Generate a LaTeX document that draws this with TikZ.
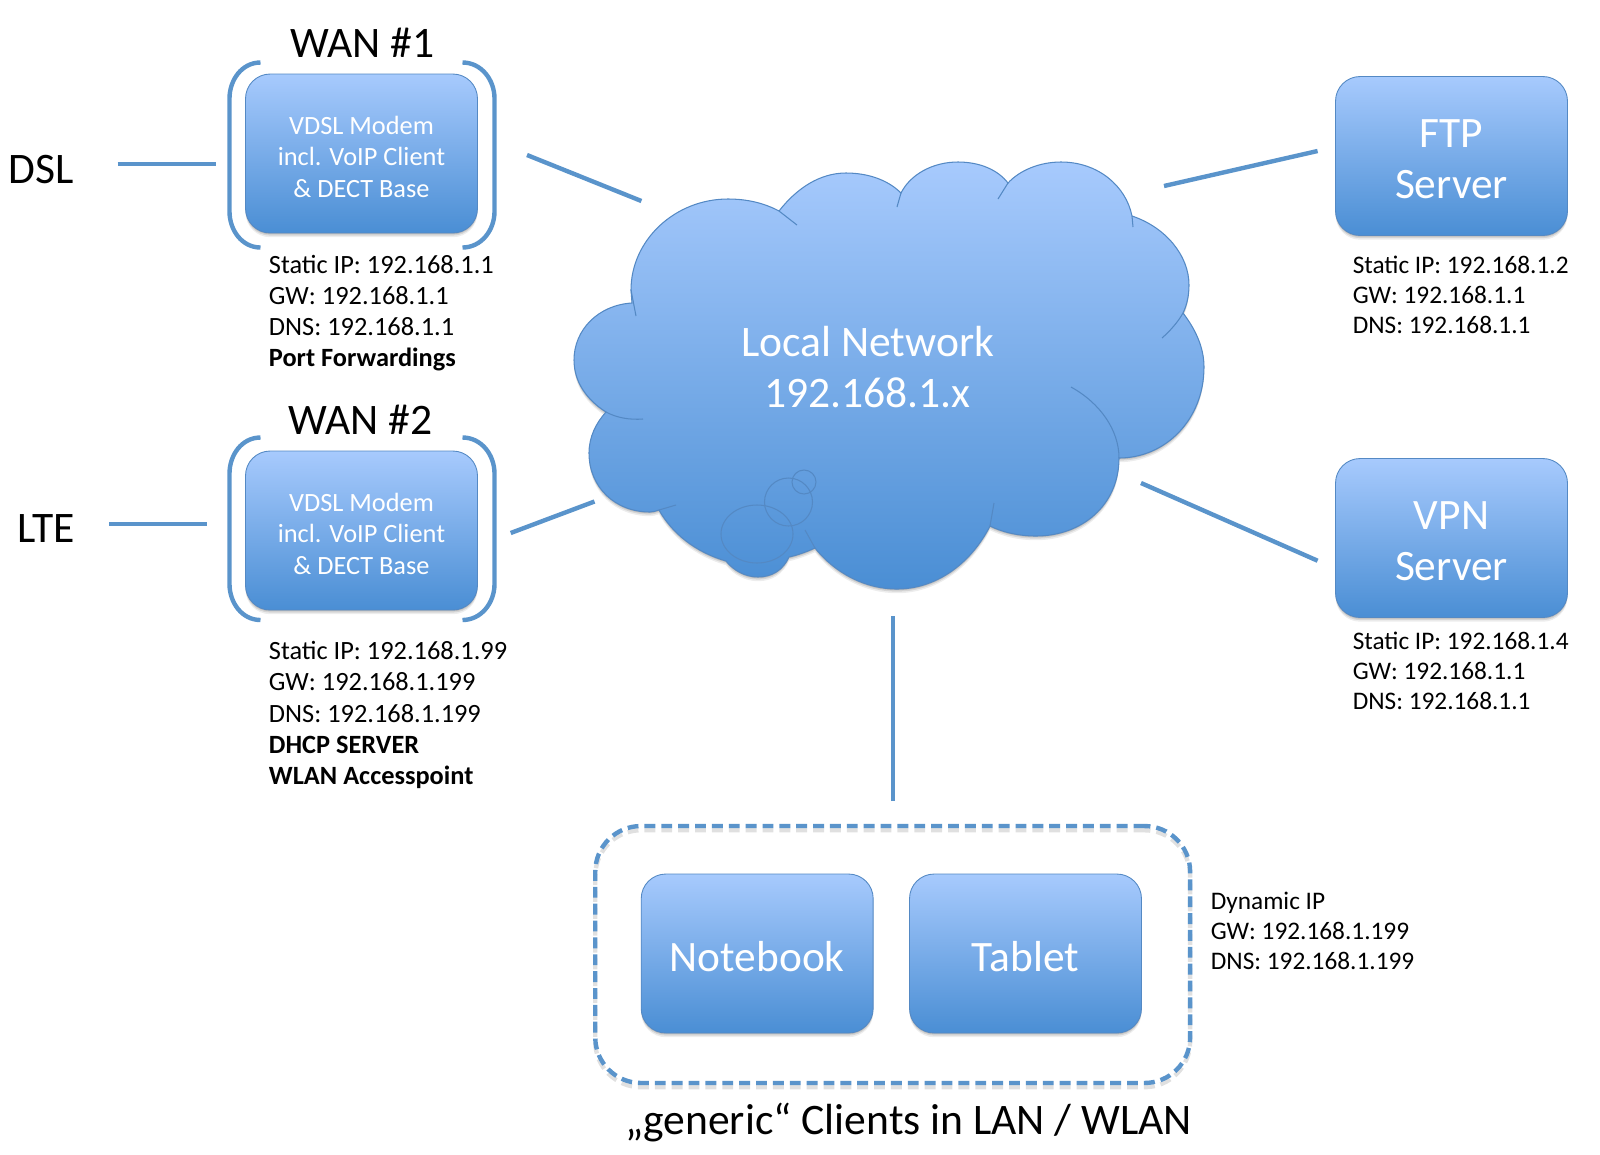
\documentclass[tikz,border=0pt]{standalone}
\usepackage{fontspec}
\setmainfont{Carlito}
\usetikzlibrary{shadows}
\definecolor{boxTop}{RGB}{167,202,253}
\definecolor{boxBot}{RGB}{74,142,212}
\definecolor{boxLine}{RGB}{84,137,196}
\definecolor{linkBlue}{RGB}{90,148,203}
\tikzset{
  softshadow/.style={
    drop shadow={shadow xshift=0pt,shadow yshift=-.7pt,opacity=.12,fill=black},
    drop shadow={shadow xshift=0pt,shadow yshift=-1.5pt,opacity=.1,fill=black},
    drop shadow={shadow xshift=0pt,shadow yshift=-2.4pt,opacity=.07,fill=black}},
  device/.style={draw=boxLine,line width=.5pt,top color=boxTop,bottom color=boxBot,rounded corners=14pt,
    softshadow,minimum width=4.64cm,minimum height=3.18cm,inner sep=0pt,align=center,text=white,
    font=\fontsize{24.7}{29}\selectfont,execute at begin node={\rule{0pt}{20.5pt}}},
  server/.style={device,execute at begin node={\rule{0pt}{48.5pt}}},
  modem/.style={device,font=\fontsize{15}{17.8}\selectfont,execute at begin node={\rule{0pt}{49.8pt}}},
  biglabel/.style={font=\fontsize{24.8}{29}\selectfont,inner sep=0pt,align=center},
  details/.style={font=\fontsize{15}{17.7}\selectfont,inner sep=0pt,align=left,anchor=west},
  sidedetails/.style={details,font=\fontsize{14.4}{17}\selectfont},
  link/.style={linkBlue,line width=2.5pt},
  cloudline/.style={boxLine,line width=.6pt},
}
\begin{document}
\begin{tikzpicture}[x=0.02cm,y=-0.02cm]
  \useasboundingbox (0,0) rectangle (1600,1154);

  % The cloud
  \path[draw=boxLine,line width=.6pt,top color=boxTop,bottom color=boxBot,softshadow]
    (632,303) -- (631,290)
    .. controls (631,240) and (675,199) .. (728,199)
    .. controls (747,199) and (764,203) .. (779,211)
    .. controls (797,188) and (820,173) .. (846,173)
    .. controls (868,173) and (888,180) .. (901,193)
    .. controls (910,175) and (932,162) .. (958,162)
    .. controls (980,162) and (998,170) .. (1008,183)
    .. controls (1020,170) and (1040,162) .. (1061,162)
    .. controls (1098,162) and (1126,186) .. (1132,216)
    .. controls (1165,227) and (1189,255) .. (1189,285)
    .. controls (1189,295) and (1187,305) .. (1183,313)
    .. controls (1196,330) and (1204,348) .. (1204,367)
    .. controls (1204,420) and (1165,458) .. (1119,458)
    .. controls (1119,505) and (1082,536) .. (1036,536)
    .. controls (1018,536) and (1002,532) .. (990,526)
    .. controls (970,565) and (935,589) .. (897,589)
    .. controls (865,589) and (835,573) .. (815,548)
    .. controls (806,552) and (798,555) .. (789,557)
    .. controls (783,570) and (772,577) .. (758,577)
    .. controls (745,577) and (733,570) .. (726,561)
    .. controls (695,552) and (672,533) .. (659,510)
    .. controls (656,511) and (653,512) .. (650,512)
    .. controls (615,512) and (589,487) .. (589,453)
    .. controls (589,437) and (596,423) .. (606,412)
    .. controls (587,400) and (574,382) .. (574,360)
    .. controls (574,330) and (598,305) .. (632,303) -- cycle;

  % Inner arcs of the cloud
  \draw[cloudline] (631,290) -- (636,316);
  \draw[cloudline] (779,211) -- (797,225);
  \draw[cloudline] (901,193) -- (897,207);
  \draw[cloudline] (1008,183) -- (998,199);
  \draw[cloudline] (1132,216) -- (1133,227);
  \draw[cloudline] (1183,313) .. controls (1178,322) and (1170,331) .. (1162,338);
  \draw[cloudline] (1071,387) .. controls (1100,403) and (1119,430) .. (1119,458);
  \draw[cloudline] (990,526) -- (994,503);
  \draw[cloudline] (815,548) -- (805,530);
  \draw[cloudline] (659,510) -- (676,505);
  \draw[cloudline] (606,412) .. controls (617,418) and (630,420) .. (643,419);
  \draw[cloudline] (757,534) ellipse (36 and 29);
  \draw[cloudline] (788.5,502) ellipse (24 and 24);
  \draw[cloudline] (804,482) ellipse (12 and 12);
  \node[biglabel,text=white] (lan) at (867.5,367) {Local Network\\192.168.1.x};

  % Dashed frame of the clients
  \node[draw=linkBlue,line width=2.5pt,dash pattern=on 6.2pt off 3.4pt,rounded corners=26pt,
    minimum width=11.9cm,minimum height=5.14cm,
    preaction={draw=black,draw opacity=.12,transform canvas={yshift=-2.4pt}}] (clients) at (892.7,954.5) {};

  % The devices
  \node[modem] (wanOne) at (361.5,153.5) {VDSL Modem\\incl. VoIP Client\\\& DECT Base};
  \node[modem] (wanTwo) at (361.5,530.5) {VDSL Modem\\incl. VoIP Client\\\& DECT Base};
  \node[server] (ftp) at (1451.5,156) {FTP\\Server};
  \node[server] (vpn) at (1451.5,538) {VPN\\Server};
  \node[device] (notebook) at (757.2,953.5) {Notebook};
  \node[device] (tablet) at (1025.5,953.5) {Tablet};

  % The brackets round both modems
  \foreach \modem/\top/\bot in {wanOne/-91/94,wanTwo/-93/89.5} {
    \begin{scope}[shift={(\modem)}]
      \draw[link] (-101,\top) to[out=180,in=90] (-132,\top+36) -- (-132,\bot-36) to[out=-90,in=180] (-101,\bot);
      \draw[link] (101,\top) to[out=0,in=90] (133,\top+36) -- (133,\bot-36) to[out=-90,in=0] (101,\bot);
    \end{scope}
  }

  % Labels
  \node[biglabel] (wanOneLabel) at (362.4,43) {WAN \#1};
  \node[biglabel] (wanTwoLabel) at (360.3,420) {WAN \#2};
  \node[biglabel] (dsl) at (41,169.5) {DSL};
  \node[biglabel] (lte) at (46,529) {LTE};
  \node[biglabel] (clientsLabel) at (908.5,1122.5) {„generic“ Clients in LAN / WLAN};

  \node[details] (wanOneInfo) at (268.6,313) {Static IP: 192.168.1.1\\GW: 192.168.1.1\\DNS: 192.168.1.1\\\textbf{Port Forwardings}};
  \node[details] (wanTwoInfo) at (268.6,715) {Static IP: 192.168.1.99\\GW: 192.168.1.199\\DNS: 192.168.1.199\\\textbf{DHCP SERVER}\\\textbf{WLAN Accesspoint}};
  \node[sidedetails] (ftpInfo) at (1352.4,294.7) {Static IP: 192.168.1.2\\GW: 192.168.1.1\\DNS: 192.168.1.1};
  \node[sidedetails] (vpnInfo) at (1352.4,671) {Static IP: 192.168.1.4\\GW: 192.168.1.1\\DNS: 192.168.1.1};
  \node[sidedetails] (clientsInfo) at (1210.5,931) {Dynamic IP\\GW: 192.168.1.199\\DNS: 192.168.1.199};

  % Free ends of the connectors
  \coordinate (dslEnd) at (117.5,164);
  \coordinate (dslWan) at (215.5,164);
  \coordinate (lteEnd) at (109,524);
  \coordinate (lteWan) at (207.3,524);
  \coordinate (wanOneEnd) at (527,155);
  \coordinate (lanOne) at (641.4,201);
  \coordinate (wanTwoEnd) at (510.7,533);
  \coordinate (lanTwo) at (594.5,501.5);
  \coordinate (ftpEnd) at (1317.6,151);
  \coordinate (lanFtp) at (1164,186);
  \coordinate (vpnEnd) at (1317.6,560.7);
  \coordinate (lanVpn) at (1141,483);
  \coordinate (clientsEnd) at (893,801);
  \coordinate (lanClients) at (893,616);

  % Connectors
  \draw[link] (dslEnd) -- (dslWan);
  \draw[link] (lteEnd) -- (lteWan);
  \draw[link] (wanOneEnd) -- (lanOne);
  \draw[link] (wanTwoEnd) -- (lanTwo);
  \draw[link] (ftpEnd) -- (lanFtp);
  \draw[link] (vpnEnd) -- (lanVpn);
  \draw[link] (clientsEnd) -- (lanClients);
\end{tikzpicture}
\end{document}
